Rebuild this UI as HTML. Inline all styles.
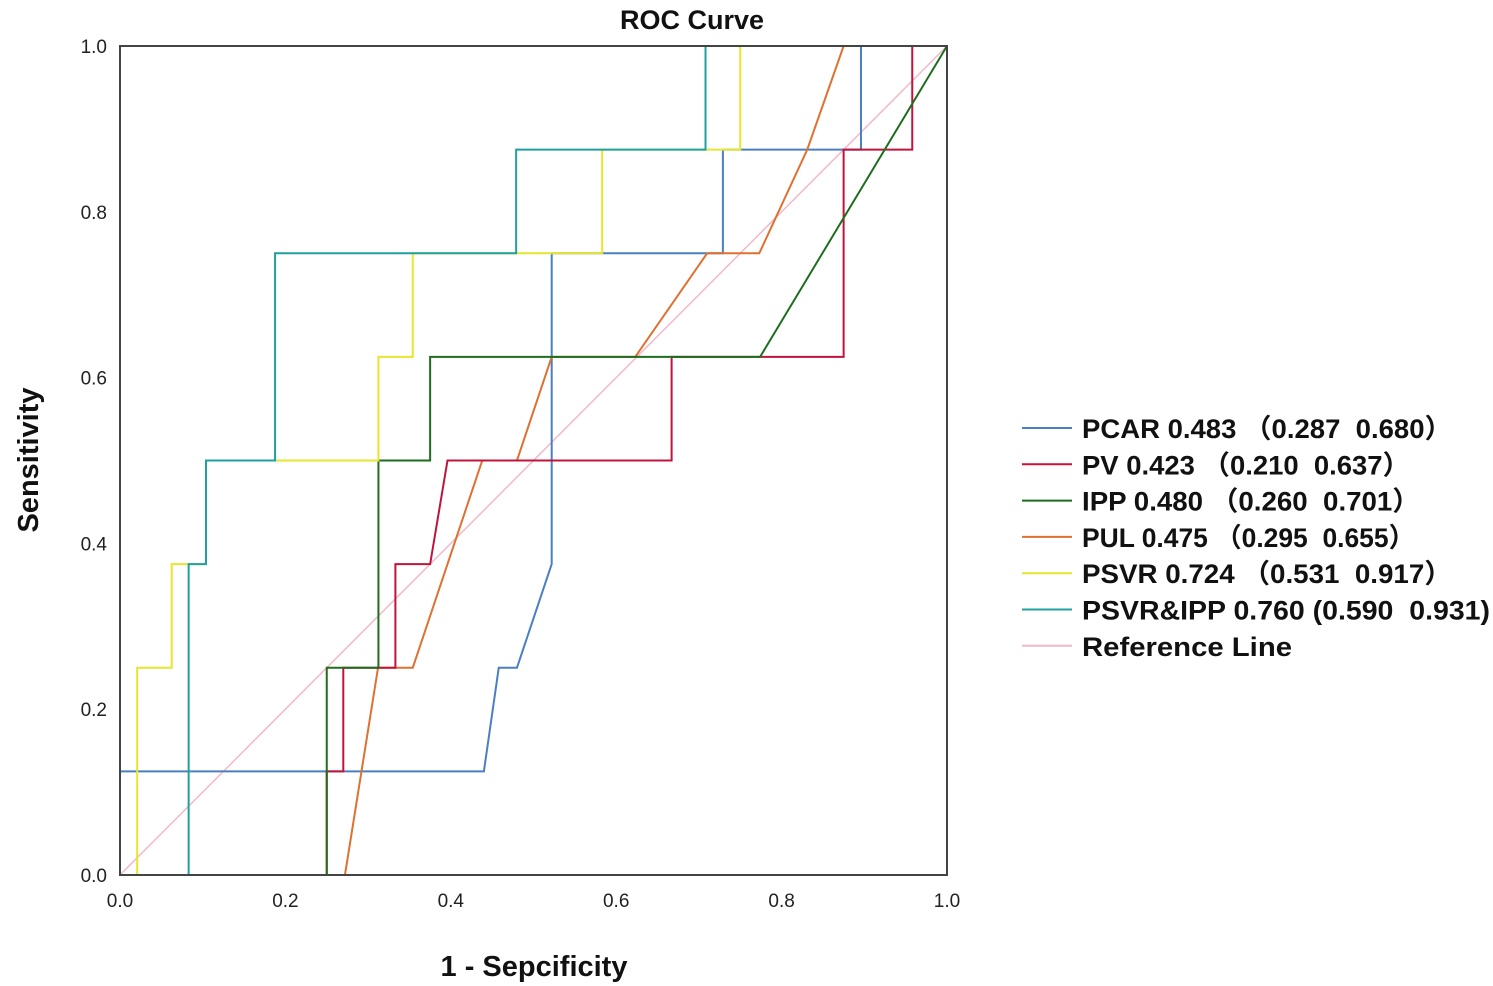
<!DOCTYPE html>
<html><head><meta charset="utf-8"><style>
html,body{margin:0;padding:0;background:#fff;}
svg{display:block;font-family:"Liberation Sans","Noto Sans CJK SC",sans-serif;}
.lt{white-space:pre;}
</style></head><body>
<svg id="chart" width="1493" height="986" viewBox="0 0 1493 986" xmlns="http://www.w3.org/2000/svg">
<text x="692" y="29" font-size="27" font-weight="bold" text-anchor="middle" fill="#111">ROC Curve</text>
<g id="series"></g>
<rect x="120" y="46" width="827" height="829" fill="none" stroke="#444" stroke-width="2"/>
<g id="axes"></g>
<text x="534" y="976" font-size="29" font-weight="bold" text-anchor="middle" fill="#111">1 - Sepcificity</text>
<text transform="translate(38,460) rotate(-90)" font-size="29" font-weight="bold" text-anchor="middle" fill="#111">Sensitivity</text>
<g id="legend"></g>
</svg>
<script>
const seriesNames = ["PCAR","PV","IPP","PUL","PSVR","PSVR&IPP","Reference Line"];
const legendLabels = ["PCAR 0.483 （0.287  0.680）","PV 0.423 （0.210  0.637）","IPP 0.480 （0.260  0.701）","PUL 0.475 （0.295  0.655）","PSVR 0.724 （0.531  0.917）","PSVR&IPP 0.760 (0.590  0.931)","Reference Line"];
const pcarFpr = [0,0,0.44,0.458,0.48,0.522,0.522,0.729,0.729,0.896,0.896,1];
const pcarTpr = [0,0.125,0.125,0.25,0.25,0.375,0.75,0.75,0.875,0.875,1,1];
const pvFpr = [0,0.25,0.25,0.27,0.27,0.333,0.333,0.375,0.396,0.667,0.667,0.875,0.875,0.958,0.958,1];
const pvTpr = [0,0,0.125,0.125,0.25,0.25,0.375,0.375,0.5,0.5,0.625,0.625,0.875,0.875,1,1];
const ippFpr = [0,0.25,0.25,0.3125,0.3125,0.375,0.375,0.774,1];
const ippTpr = [0,0,0.25,0.25,0.5,0.5,0.625,0.625,1];
const pulFpr = [0,0.272,0.312,0.354,0.438,0.48,0.522,0.623,0.71,0.773,0.831,0.875,1];
const pulTpr = [0,0,0.25,0.25,0.5,0.5,0.625,0.625,0.75,0.75,0.875,1,1];
const psvrFpr = [0,0.0208,0.0208,0.0625,0.0625,0.104,0.104,0.3125,0.3125,0.354,0.354,0.583,0.583,0.75,0.75,1];
const psvrTpr = [0,0,0.25,0.25,0.375,0.375,0.5,0.5,0.625,0.625,0.75,0.75,0.875,0.875,1,1];
const comboFpr = [0,0.083,0.083,0.104,0.104,0.1875,0.1875,0.479,0.479,0.708,0.708,1];
const comboTpr = [0,0,0.375,0.375,0.5,0.5,0.75,0.75,0.875,0.875,1,1];
const refFpr = [0,1];
const refTpr = [0,1];
const xTicks = [0,0.2,0.4,0.6,0.8,1.0];
const yTicks = [0,0.2,0.4,0.6,0.8,1.0];
const tickLabels = ["0.0","0.2","0.4","0.6","0.8","1.0"];

const NS="http://www.w3.org/2000/svg";
const X0=120,X1=947,Y0=875,Y1=46;
function sx(v){return X0+v*(X1-X0);}
function sy(v){return Y0-v*(Y0-Y1);}
const colors=["#4a7fc1","#c0143c","#1e6e1e","#e07030","#e6e62e","#20a0a0","#f4b8c8"];
const legendWidths=[370,328,338,333,370,408,210];
const fprs=[pcarFpr,pvFpr,ippFpr,pulFpr,psvrFpr,comboFpr,refFpr];
const tprs=[pcarTpr,pvTpr,ippTpr,pulTpr,psvrTpr,comboTpr,refTpr];
const order=[6,0,3,1,2,4,5];
const sg=document.getElementById('series');
order.forEach(i=>{
  const p=document.createElementNS(NS,'polyline');
  
  
  p.setAttribute('points',fprs[i].map((f,k)=>sx(f)+','+sy(tprs[i][k])).join(' '));
  p.setAttribute('fill','none');
  p.setAttribute('stroke',colors[i]);
  p.setAttribute('stroke-width',i===6?'1.5':'2');
  sg.appendChild(p);
});
const ax=document.getElementById('axes');
xTicks.forEach((t,k)=>{
  const tx=document.createElementNS(NS,'text');
  
  
  tx.setAttribute('x',sx(t));tx.setAttribute('y',907);
  tx.setAttribute('font-size','19');tx.setAttribute('text-anchor','middle');tx.setAttribute('fill','#222');
  tx.textContent=tickLabels[k];ax.appendChild(tx);
});
yTicks.forEach((t,k)=>{
  const tx=document.createElementNS(NS,'text');
  
  
  tx.setAttribute('x',107);tx.setAttribute('y',sy(t)+7);
  tx.setAttribute('font-size','19');tx.setAttribute('text-anchor','end');tx.setAttribute('fill','#222');
  tx.textContent=tickLabels[k];ax.appendChild(tx);
});
const lg=document.getElementById('legend');
legendLabels.forEach((lab,i)=>{
  const y=428+i*36.3;
  const l=document.createElementNS(NS,'line');
  
  
  l.setAttribute('x1',1022);l.setAttribute('x2',1072);l.setAttribute('y1',y);l.setAttribute('y2',y);
  l.setAttribute('stroke',colors[i]);l.setAttribute('stroke-width','2');
  lg.appendChild(l);
  const t=document.createElementNS(NS,'text');
  
  
  t.setAttribute('class','lt');
  t.setAttribute('x',1082);t.setAttribute('y',y+10);
  t.setAttribute('font-size','27');t.setAttribute('font-weight','bold');t.setAttribute('fill','#111');
  t.setAttribute('textLength',legendWidths[i]);
  t.setAttribute('lengthAdjust','spacingAndGlyphs');
  t.textContent=lab;lg.appendChild(t);
});
</script>
</body></html>
